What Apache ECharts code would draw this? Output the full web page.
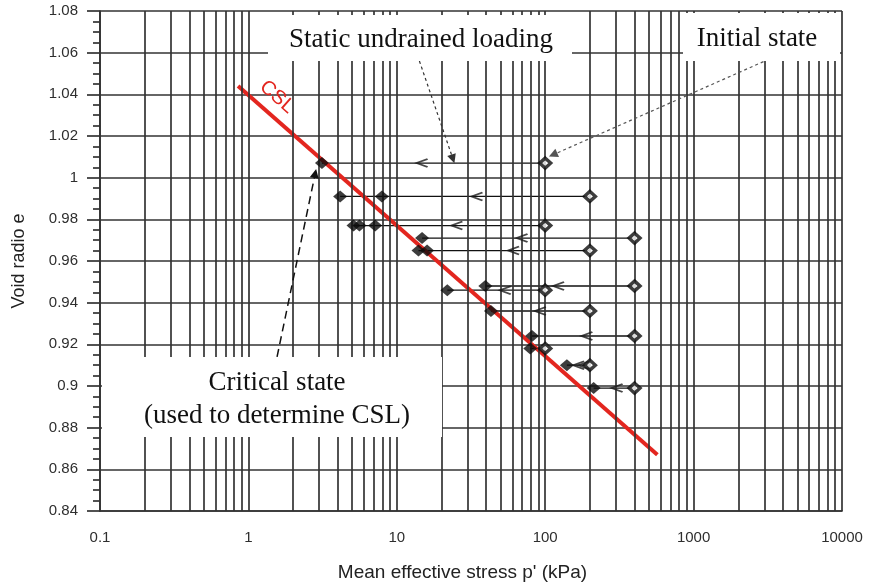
<!DOCTYPE html>
<html lang="en">
<head>
    <meta charset="utf-8">
    <title>CSL chart</title>
    <script src="https://cdn.jsdelivr.net/npm/echarts@6/dist/echarts.min.js"></script>
    <style>
        html, body { margin: 0; padding: 0; background: #fff; }
        #main { width: 873px; height: 587px; }
    </style>
</head>
<body>
<div id="main"></div>
<script type="text/javascript">

    // each test: void ratio, initial p' (start), critical state p' (end)
    var testE = [1.007, 0.991, 0.977, 0.971, 0.965, 0.948, 0.946, 0.936, 0.924, 0.918, 0.910, 0.899];
    var initP = [100, 200, 100, 400, 200, 400, 100, 200, 400, 100, 200, 400];
    var critP = [3.13, 4.15, 5.11, 14.8, 14.0, 39.5, 21.9, 43.1, 81.5, 79.3, 140, 212];

    // extra critical-state points on the same rows
    var extraE = [0.991, 0.977, 0.977, 0.965];
    var extraP = [7.93, 5.6, 7.15, 16.0];

    // "<" direction marks on the stress paths
    var arrowE = [1.007, 0.991, 0.977, 0.971, 0.965, 0.948, 0.946, 0.936, 0.924, 0.910, 0.910, 0.899];
    var arrowP = [14.8, 34.7, 25.4, 69.8, 61.2, 123, 53.8, 92.7, 191, 168, 182, 305];

    // critical state line end points
    var cslP = [0.852, 570];
    var cslE = [1.044, 0.867];

    // x axis tick labels
    var xTicks = [0.1, 1, 10, 100, 1000, 10000];

    // leader arrows of the notes: [p start, e start, p end, e end]
    var noteStatic = [14.2, 1.056, 23.9, 1.009];
    var noteInitial = [2956, 1.0557, 113, 1.011];
    var noteCritical = [1.56, 0.914, 2.82, 1.002];

    var gridColor = '#333';
    var serif = "'Times New Roman', 'Liberation Serif', serif";
    var sans = "Arial, 'Liberation Sans', sans-serif";

    // log grid lines 1..9 per decade
    var gridP = [];
    for (var k = -1; k <= 3; k++) {
        for (var m = 1; m <= 9; m++) {
            gridP.push(m * Math.pow(10, k));
        }
    }
    gridP.push(10000);

    var chart = echarts.init(document.getElementById('main'));

    var series = [];
    series.push({
        type: 'line',
        data: [],
        z: 1,
        silent: true,
        markLine: {
            silent: true,
            symbol: 'none',
            animation: false,
            label: { show: false },
            lineStyle: { color: gridColor, width: 1.7, type: 'solid' },
            data: gridP.map(function (v) { return { xAxis: v }; })
        }
    });

    for (var i = 0; i < testE.length; i++) {
        series.push({
            type: 'line',
            data: [[initP[i], testE[i]], [critP[i], testE[i]]],
            symbol: 'none',
            silent: true,
            z: 2,
            lineStyle: { color: '#111', width: 1.4 }
        });
    }

    series.push({
        type: 'line',
        data: [[cslP[0], cslE[0]], [cslP[1], cslE[1]]],
        symbol: 'none',
        silent: true,
        z: 3,
        lineStyle: { color: '#e3261f', width: 4 }
    });

    function note(a, style) {
        return [
            { coord: [a[0], a[1]], lineStyle: style },
            { coord: [a[2], a[3]] }
        ];
    }
    series.push({
        type: 'line',
        data: [],
        z: 4,
        silent: true,
        markLine: {
            silent: true,
            animation: false,
            symbol: ['none', 'triangle'],
            symbolSize: 9,
            label: { show: false },
            data: [
                note(noteStatic, { color: '#333', width: 1.2, type: [3, 3] }),
                note(noteInitial, { color: '#555', width: 1.2, type: [3, 3] }),
                note(noteCritical, { color: '#111', width: 1.5, type: [8, 5] })
            ]
        }
    });

    var critData = [];
    for (var i = 0; i < testE.length; i++) critData.push([critP[i], testE[i]]);
    for (var j = 0; j < extraE.length; j++) critData.push([extraP[j], extraE[j]]);
    series.push({
        type: 'scatter',
        data: critData,
        symbol: 'diamond',
        symbolSize: [14, 12],
        z: 5,
        silent: true,
        itemStyle: { color: '#0d0d0d' }
    });

    var initData = [];
    for (var i = 0; i < testE.length; i++) initData.push([initP[i], testE[i]]);
    series.push({
        type: 'scatter',
        data: initData,
        symbol: 'diamond',
        symbolSize: [11, 10],
        z: 5,
        silent: true,
        itemStyle: { color: '#fff', borderColor: '#0d0d0d', borderWidth: 3.4 }
    });

    var arrowData = [];
    for (var a = 0; a < arrowE.length; a++) arrowData.push([arrowP[a], arrowE[a]]);
    series.push({
        type: 'scatter',
        data: arrowData,
        symbol: 'path://M10,0 L0,4 L10,8',
        symbolSize: [11, 8],
        z: 5,
        silent: true,
        itemStyle: { color: 'transparent', borderColor: '#1a1a1a', borderWidth: 1.9 }
    });

    function box(x, y, w, h) {
        return { type: 'rect', z: 10, silent: true, shape: { x: x, y: y, width: w, height: h }, style: { fill: '#fff' } };
    }
    function label(x, y, text) {
        return {
            type: 'text', z: 11, silent: true, x: x, y: y,
            style: {
                text: text, fill: '#111', font: '27px ' + serif,
                align: 'center', verticalAlign: 'middle',
                textAlign: 'center', textVerticalAlign: 'middle'
            }
        };
    }

    var option = {
        backgroundColor: '#fff',
        animation: false,
        grid: { left: 100, right: 31, top: 11, bottom: 76 },
        xAxis: {
            type: 'log',
            logBase: 10,
            min: 0.1,
            max: 10000,
            axisLine: { show: true, lineStyle: { color: gridColor, width: 1.7 } },
            axisTick: { show: false },
            splitLine: { show: false },
            axisLabel: {
                margin: 19,
                fontSize: 15,
                fontFamily: sans,
                color: '#2e2e2e',
                formatter: function (v) {
                    for (var t = 0; t < xTicks.length; t++) {
                        if (Math.abs(v - xTicks[t]) / xTicks[t] < 1e-6) return String(xTicks[t]);
                    }
                    return '';
                }
            },
            name: "Mean effective stress p' (kPa)",
            nameLocation: 'middle',
            nameGap: 52,
            nameTextStyle: { fontSize: 19, fontFamily: sans, color: '#222', padding: [0, 17, 0, 0] }
        },
        yAxis: {
            type: 'value',
            min: 0.84,
            max: 1.08,
            interval: 0.02,
            axisLine: { show: true, lineStyle: { color: gridColor, width: 1.7 } },
            axisTick: { show: true, length: 13, lineStyle: { color: gridColor, width: 1.7 } },
            minorTick: { show: true, splitNumber: 4, length: 7, lineStyle: { color: gridColor, width: 1.7 } },
            splitLine: { show: true, lineStyle: { color: gridColor, width: 1.7 } },
            axisLabel: {
                margin: 22,
                fontSize: 15,
                fontFamily: sans,
                color: '#2e2e2e',
                formatter: function (v) { return String(+v.toFixed(2)); }
            },
            name: 'Void radio e',
            nameLocation: 'middle',
            nameGap: 72,
            nameRotate: 90,
            nameTextStyle: { fontSize: 18, fontFamily: sans, color: '#222' }
        },
        graphic: [
            box(268, 15, 304, 46),
            box(683, 13, 157, 48),
            box(102, 357, 340, 80),
            label(421, 40, 'Static undrained loading'),
            label(757, 39, 'Initial state'),
            label(277, 383, 'Critical state'),
            label(277, 416, '(used to determine CSL)'),
            {
                type: 'text', z: 11, silent: true, x: 277, y: 97, rotation: -0.72,
                style: {
                    text: 'CSL', fill: '#e3261f', font: '20px ' + sans,
                    align: 'center', verticalAlign: 'middle',
                    textAlign: 'center', textVerticalAlign: 'middle'
                }
            }
        ],
        series: series
    };
    chart.setOption(option);
</script>
</body>
</html>
